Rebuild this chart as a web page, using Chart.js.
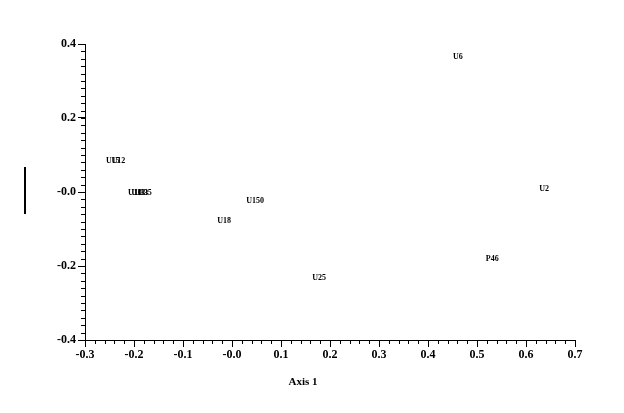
<!DOCTYPE html>
<html>
<head>
<meta charset="utf-8">
<script src="https://cdn.jsdelivr.net/npm/chart.js@4.4.1/dist/chart.umd.min.js"></script>
<style>
  html, body { margin: 0; padding: 0; background: #fff; }
  #wrap { position: relative; width: 624px; height: 413px; }
</style>
</head>
<body>
<div id="wrap"><canvas id="ordChart"></canvas></div>
<script>
const pointLabels = ["U6", "U2", "P46", "U25", "U150", "U18", "U15", "U12", "U10", "U13", "U33", "U35"];
const axis1 = [0.461, 0.637, 0.531, 0.178, 0.047, -0.016, -0.243, -0.232, -0.198, -0.191, -0.185, -0.178];
const axis2 = [0.365, 0.008, -0.181, -0.233, -0.025, -0.079, 0.083, 0.083, -0.003, -0.003, -0.003, -0.003];

const xTicks = [-0.3, -0.2, -0.1, 0.0, 0.1, 0.2, 0.3, 0.4, 0.5, 0.6, 0.7];
const yTicks = [-0.4, -0.2, 0.0, 0.2, 0.4];

const serif = "'Liberation Serif', 'DejaVu Serif', serif";

function fmt(v) {
  if (Math.abs(v) < 1e-9) return "-0.0";
  return v.toFixed(1);
}

// minor ticks, point labels, the bar on the left and the axis title
const extras = {
  id: "extras",
  afterDraw(chart) {
    const ctx = chart.ctx;
    const xs = chart.scales.x, ys = chart.scales.y;
    const area = chart.chartArea;
    ctx.save();
    ctx.strokeStyle = "#000";
    ctx.lineWidth = 1;
    ctx.beginPath();
    for (let i = 0; i <= 50; i++) {
      const v = -0.3 + i * 0.02;
      const px = Math.round(xs.getPixelForValue(v)) + 0.5;
      ctx.moveTo(px, area.bottom);
      ctx.lineTo(px, area.bottom + 4);
    }
    for (let i = 0; i <= 40; i++) {
      const v = -0.4 + i * 0.02;
      const py = Math.round(ys.getPixelForValue(v)) + 0.5;
      ctx.moveTo(area.left, py);
      ctx.lineTo(area.left - 4, py);
    }
    ctx.stroke();

    ctx.fillStyle = "#000";
    ctx.font = "bold 8px " + serif;
    ctx.textAlign = "center";
    ctx.textBaseline = "middle";
    const meta = chart.getDatasetMeta(0);
    meta.data.forEach((pt, i) => {
      ctx.fillText(pointLabels[i], pt.x, pt.y);
    });

    ctx.lineWidth = 2;
    ctx.beginPath();
    ctx.moveTo(25, 167);
    ctx.lineTo(25, 214);
    ctx.stroke();

    ctx.font = "bold 11px " + serif;
    ctx.fillText("Axis 1", area.left + (area.right - area.left) * 0.445, 382);
    ctx.restore();
  }
};

new Chart(document.getElementById("ordChart"), {
  type: "scatter",
  data: {
    datasets: [{
      data: axis1.map((x, i) => ({ x: x, y: axis2[i] })),
      pointRadius: 0,
      pointHoverRadius: 0,
      showLine: false
    }]
  },
  options: {
    responsive: true,
    maintainAspectRatio: false,
    animation: false,
    events: [],
    layout: { padding: { left: 0, top: 44, right: 49, bottom: 0 } },
    plugins: { legend: { display: false }, tooltip: { enabled: false } },
    scales: {
      x: {
        type: "linear",
        min: -0.3,
        max: 0.7,
        afterBuildTicks: (s) => { s.ticks = xTicks.map(v => ({ value: v })); },
        afterFit: (s) => { s.height = 73; },
        ticks: {
          color: "#000",
          font: { family: serif, size: 12, weight: "bold" },
          padding: 1,
          maxRotation: 0,
          callback: (v) => fmt(v)
        },
        grid: { drawOnChartArea: false, drawTicks: true, tickLength: 7, color: "#000" },
        border: { display: true, color: "#000", width: 1 }
      },
      y: {
        type: "linear",
        min: -0.4,
        max: 0.4,
        afterBuildTicks: (s) => { s.ticks = yTicks.map(v => ({ value: v })); },
        afterFit: (s) => { s.width = 85; },
        ticks: {
          color: "#000",
          font: { family: serif, size: 12, weight: "bold" },
          padding: 2,
          callback: (v) => fmt(v)
        },
        grid: { drawOnChartArea: false, drawTicks: true, tickLength: 7, color: "#000" },
        border: { display: true, color: "#000", width: 1 }
      }
    }
  },
  plugins: [extras]
});
</script>
</body>
</html>
